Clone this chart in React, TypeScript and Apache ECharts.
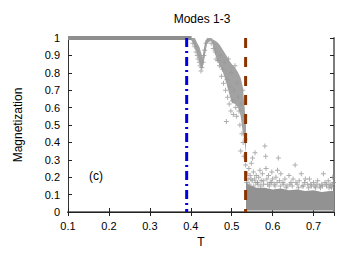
import React, { useEffect, useRef } from "react";
import * as echarts from "echarts";

// Plateau at M = 1 (low temperature)
const plateauT = [0.1, 0.402];
const plateauM = [1.0, 1.0];

// Transition region envelope (dense cloud of points)
const transT = [0.395, 0.4, 0.405, 0.41, 0.416, 0.421, 0.426, 0.429, 0.432, 0.436, 0.44, 0.45, 0.455, 0.459, 0.465, 0.471, 0.479, 0.487, 0.494, 0.5, 0.508, 0.516, 0.522, 0.527, 0.531, 0.535];
const transUpper = [1.0, 1.0, 1.0, 1.0, 0.97, 0.95, 0.91, 0.89, 0.94, 0.985, 1.0, 1.0, 0.99, 0.985, 0.975, 0.96, 0.93, 0.9, 0.87, 0.85, 0.83, 0.8, 0.77, 0.72, 0.62, 0.5];
const transLower = [0.99, 0.99, 0.975, 0.94, 0.91, 0.865, 0.82, 0.83, 0.865, 0.92, 0.97, 0.985, 0.95, 0.91, 0.87, 0.84, 0.8, 0.74, 0.68, 0.63, 0.62, 0.6, 0.55, 0.46, 0.41, 0.34];

// High temperature noise band envelope
const noiseT = [0.535, 0.54, 0.55, 0.56, 0.58, 0.6, 0.62, 0.64, 0.66, 0.68, 0.7, 0.72, 0.74, 0.75];
const noiseUpper = [0.18, 0.16, 0.15, 0.14, 0.14, 0.13, 0.135, 0.125, 0.13, 0.12, 0.125, 0.115, 0.12, 0.12];
const noiseLower = [0.008, 0.008, 0.008, 0.008, 0.008, 0.008, 0.008, 0.008, 0.008, 0.008, 0.008, 0.008, 0.008, 0.008];

// Individual scattered samples
const pointT = [
  0.405, 0.41, 0.413, 0.416, 0.418, 0.421, 0.423, 0.425, 0.427, 0.43, 0.432, 0.434, 0.437,
  0.45, 0.455, 0.46, 0.462, 0.466, 0.47, 0.472, 0.475, 0.478, 0.48, 0.482, 0.485, 0.487, 0.488,
  0.49, 0.492, 0.494, 0.496, 0.498, 0.5, 0.502, 0.504, 0.506, 0.508, 0.51, 0.512, 0.514, 0.516,
  0.518, 0.52, 0.522, 0.523, 0.525, 0.527, 0.528, 0.53, 0.532, 0.533, 0.534,
  0.538, 0.54, 0.542, 0.545, 0.548, 0.55, 0.551, 0.553, 0.556, 0.557, 0.56, 0.563, 0.566, 0.569,
  0.572, 0.575, 0.578, 0.581, 0.583, 0.584, 0.586, 0.59, 0.594, 0.598, 0.6, 0.604, 0.608, 0.612,
  0.614, 0.617, 0.62, 0.625, 0.63, 0.635, 0.64, 0.645, 0.65, 0.655, 0.66, 0.665, 0.67, 0.675,
  0.68, 0.685, 0.69, 0.695, 0.7, 0.705, 0.71, 0.715, 0.72, 0.724, 0.728, 0.732, 0.736, 0.74,
  0.744, 0.747, 0.749,
  0.537, 0.543, 0.547, 0.554, 0.559, 0.564, 0.571, 0.577, 0.588, 0.592, 0.597, 0.606, 0.611,
  0.619, 0.627, 0.633, 0.642, 0.648, 0.657, 0.663, 0.672, 0.678, 0.688, 0.693, 0.703, 0.708,
  0.717, 0.722, 0.731, 0.738, 0.742, 0.746,
];
const pointM = [
  0.97, 0.95, 0.92, 0.9, 0.88, 0.86, 0.84, 0.81, 0.83, 0.86, 0.9, 0.93, 0.97,
  0.97, 0.94, 0.92, 0.88, 0.87, 0.84, 0.9, 0.78, 0.82, 0.74, 0.86, 0.7, 0.52, 0.76,
  0.66, 0.88, 0.62, 0.72, 0.58, 0.8, 0.64, 0.56, 0.7, 0.84, 0.6, 0.55, 0.74, 0.66,
  0.58, 0.5, 0.35, 0.62, 0.45, 0.7, 0.4, 0.32, 0.55, 0.42, 0.27,
  0.22, 0.19, 0.25, 0.21, 0.28, 0.18, 0.31, 0.23, 0.19, 0.34, 0.21, 0.17, 0.2, 0.24,
  0.18, 0.22, 0.16, 0.38, 0.32, 0.25, 0.19, 0.21, 0.17, 0.23, 0.19, 0.16, 0.2, 0.24,
  0.31, 0.18, 0.22, 0.17, 0.19, 0.15, 0.21, 0.17, 0.19, 0.27, 0.16, 0.18, 0.22, 0.15,
  0.19, 0.16, 0.19, 0.15, 0.17, 0.14, 0.18, 0.15, 0.16, 0.22, 0.17, 0.15, 0.18, 0.16,
  0.14, 0.2, 0.17,
  0.17, 0.16, 0.19, 0.15, 0.17, 0.16, 0.15, 0.18, 0.16, 0.15, 0.17, 0.15, 0.17,
  0.15, 0.16, 0.14, 0.16, 0.15, 0.17, 0.14, 0.15, 0.17, 0.14, 0.16, 0.15, 0.16,
  0.14, 0.15, 0.16, 0.14, 0.15, 0.16,
];

// Critical temperatures
const tcBlue = 0.39;
const tcBrown = 0.534;

const xTicksMin = 0.1;
const xTicksMax = 0.75;
const yTicksMin = 0;
const yTicksMax = 1;

const FONT = "'Liberation Sans', Arial, sans-serif";
const GRAY = "#8e8e8e";
const PLUS = "path://M4,0H6V4H10V6H6V10H4V6H0V4H4Z";

function bandSeries(ts: number[], up: number[], lo: number[], color: string) {
  return {
    type: "custom",
    silent: true,
    z: 2,
    renderItem: (params: any, api: any) => {
      if (params.dataIndex !== 0) return null;
      const pts: number[][] = [];
      for (let i = 0; i < ts.length; i++) pts.push(api.coord([ts[i], up[i]]));
      for (let i = ts.length - 1; i >= 0; i--) pts.push(api.coord([ts[i], lo[i]]));
      return { type: "polygon", shape: { points: pts }, style: { fill: color } };
    },
    encode: { x: 0, y: 1 },
    data: ts.map((t, i) => [t, up[i]]),
  };
}

export default function App() {
  const ref = useRef<HTMLDivElement>(null);
  useEffect(() => {
    document.body.style.margin = "0";
    if (!ref.current) return;
    const chart = echarts.init(ref.current, undefined, { renderer: "svg" });
    const tickStyle = { show: true, inside: true, length: 4, lineStyle: { color: "#222", width: 1 } };
    chart.setOption({
      animation: false,
      backgroundColor: "#fff",
      textStyle: { fontFamily: FONT },
      grid: { left: 68, right: 26, top: 38, bottom: 41, containLabel: false },
      graphic: [
        {
          type: "text",
          x: 202,
          y: 13,
          style: { text: "Modes 1-3", align: "center", verticalAlign: "top", fontSize: 12, fontFamily: FONT, fill: "#000" },
        },
        {
          type: "text",
          x: 89,
          y: 170,
          z: 10,
          style: { text: "(c)", fontSize: 12, fontFamily: FONT, fill: "#000" },
        },
      ],
      xAxis: [
        {
          type: "value",
          position: "bottom",
          min: xTicksMin,
          max: xTicksMax,
          interval: 0.1,
          name: "T",
          nameLocation: "middle",
          nameGap: 24,
          nameTextStyle: { fontSize: 12, color: "#000", fontFamily: FONT },
          axisLine: { show: true, lineStyle: { color: "#7c7c7c", width: 2 } },
          axisTick: tickStyle,
          axisLabel: {
            fontSize: 11,
            color: "#000",
            fontFamily: FONT,
            margin: 8,
            showMaxLabel: false,
            formatter: (v: number) => (v > 0.745 ? "" : String(Math.round(v * 10) / 10)),
          },
          splitLine: { show: false },
        },
        {
          type: "value",
          position: "top",
          min: xTicksMin,
          max: xTicksMax,
          interval: 0.1,
          axisLine: { show: true, lineStyle: { color: "#222", width: 1 } },
          axisTick: tickStyle,
          axisLabel: { show: false },
          splitLine: { show: false },
        },
      ],
      yAxis: [
        {
          type: "value",
          position: "left",
          min: yTicksMin,
          max: yTicksMax,
          interval: 0.1,
          name: "Magnetization",
          nameLocation: "middle",
          nameGap: 44,
          nameTextStyle: { fontSize: 12, color: "#000", fontFamily: FONT },
          axisLine: { show: true, lineStyle: { color: "#333", width: 1 } },
          axisTick: tickStyle,
          axisLabel: {
            fontSize: 11,
            color: "#000",
            fontFamily: FONT,
            margin: 8,
            formatter: (v: number) => String(Math.round(v * 10) / 10),
          },
          splitLine: { show: false },
        },
        {
          type: "value",
          position: "right",
          min: yTicksMin,
          max: yTicksMax,
          interval: 0.1,
          axisLine: { show: true, lineStyle: { color: "#7c7c7c", width: 2 } },
          axisTick: tickStyle,
          axisLabel: { show: false },
          splitLine: { show: false },
        },
      ],
      series: [
        {
          type: "line",
          data: plateauT.map((t, i) => [t, plateauM[i]]),
          symbol: "none",
          lineStyle: { color: GRAY, width: 4 },
          z: 2,
        },
        bandSeries(transT, transUpper, transLower, "#a2a2a2"),
        bandSeries(noiseT, noiseUpper, noiseLower, "#929292"),
        {
          type: "scatter",
          data: pointT.map((t, i) => [t, pointM[i]]),
          symbol: PLUS,
          symbolSize: 5,
          itemStyle: { color: "#9a9a9a" },
          z: 3,
        },
        {
          type: "line",
          data: [
            [tcBlue, yTicksMax],
            [tcBlue, yTicksMin],
          ],
          symbol: "none",
          lineStyle: { color: "#0000e0", width: 3, type: [9, 4, 2, 4] },
          z: 5,
        },
        {
          type: "line",
          data: [
            [tcBrown, yTicksMax],
            [tcBrown, yTicksMin],
          ],
          symbol: "none",
          lineStyle: { color: "#8b3300", width: 3, type: [10, 9] },
          z: 5,
        },
      ],
    });
    return () => chart.dispose();
  }, []);
  return <div ref={ref} style={{ width: 360, height: 253 }} />;
}
